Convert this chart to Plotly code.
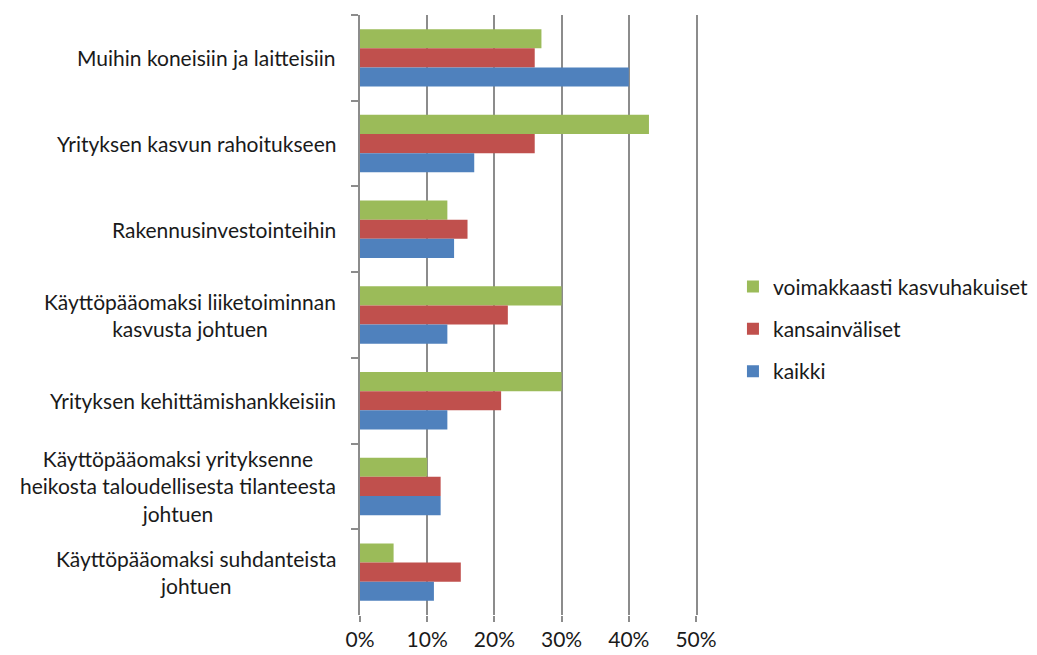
import plotly.graph_objects as go

categories = [
    "Muihin koneisiin ja laitteisiin",
    "Yrityksen kasvun rahoitukseen",
    "Rakennusinvestointeihin",
    "Käyttöpääomaksi liiketoiminnan<br>kasvusta johtuen",
    "Yrityksen kehittämishankkeisiin",
    "Käyttöpääomaksi yrityksenne<br>heikosta taloudellisesta tilanteesta<br>johtuen",
    "Käyttöpääomaksi suhdanteista<br>johtuen",
]
voimakkaasti = [0.27, 0.43, 0.13, 0.30, 0.30, 0.10, 0.05]
kansainvaliset = [0.26, 0.26, 0.16, 0.22, 0.21, 0.12, 0.15]
kaikki = [0.40, 0.17, 0.14, 0.13, 0.13, 0.12, 0.11]

series = [
    ("voimakkaasti kasvuhakuiset", voimakkaasti, "#9BBB59"),
    ("kansainväliset", kansainvaliset, "#C0504D"),
    ("kaikki", kaikki, "#4F81BD"),
]

FONT = "Lato, 'Open Sans', sans-serif"
GREY = "#8c8c8c"

fig = go.Figure()
for name, vals, color in series:
    fig.add_trace(go.Bar(y=categories, x=vals, name=name, orientation="h",
                         marker=dict(color=color, line=dict(width=0)),
                         legendgroup=name))

# centred multi-line category labels, like the original
for cat in categories:
    fig.add_annotation(x=-0.064, xref="paper", y=cat, yref="y", text=cat,
                       showarrow=False, xanchor="right", align="center",
                       font=dict(size=21, color="#1a1a1a", family=FONT))

# page has an 8px body margin, so shift the margins to compensate
fig.update_layout(
    width=1037, height=655,
    margin=dict(l=352, r=349, t=7, b=48),
    paper_bgcolor="white", plot_bgcolor="white",
    barmode="group", bargap=0.33, bargroupgap=0,
    font=dict(family=FONT, size=21, color="#1a1a1a"),
    legend=dict(x=1.11, y=0.581, xanchor="left", yanchor="top",
                traceorder="grouped", tracegroupgap=12,
                font=dict(size=21, color="#1a1a1a")),
)
fig.update_xaxes(range=[0, 0.5], dtick=0.1, tickformat=".0%",
                 showgrid=True, gridcolor=GREY, gridwidth=1.5,
                 zeroline=False, showline=False, automargin=False,
                 ticks="outside", ticklen=6, tickcolor=GREY, tickwidth=1.5,
                 tickfont=dict(size=21, color="#1a1a1a"))
fig.update_yaxes(autorange="reversed", showticklabels=False,
                 showline=True, mirror=True, linecolor=GREY, linewidth=1.5,
                 ticks="outside", tickson="boundaries", ticklen=7,
                 tickcolor=GREY, tickwidth=1.5, showgrid=False)

fig.write_html("out.html")
